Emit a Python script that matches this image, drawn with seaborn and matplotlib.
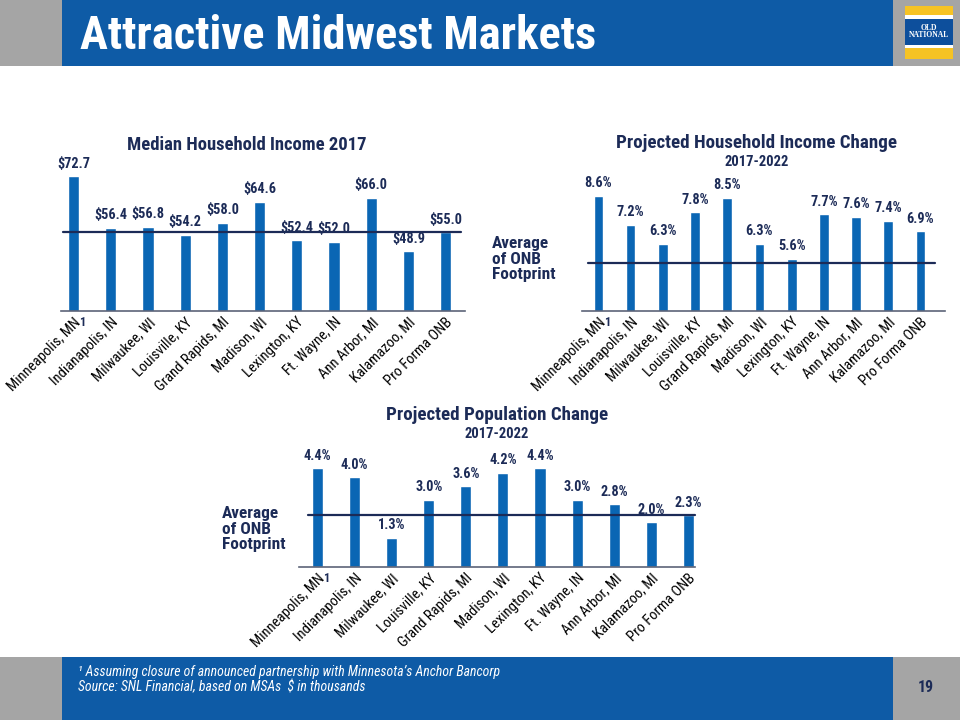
import matplotlib
matplotlib.use("Agg")
import matplotlib.pyplot as plt
import seaborn as sns
import pandas as pd
from matplotlib.patches import Rectangle
from matplotlib import font_manager

sns.set_theme(style="white")


def pick_family(prefs):
    fl = font_manager.fontManager.ttflist
    for p in prefs:
        files = [f for f in fl if f.name == p and "[" not in f.fname]
        w = {f.weight for f in files if f.style == "normal"}
        if (700 in w or "bold" in w) and (400 in w or "normal" in w or "regular" in w):
            return p
    return "DejaVu Sans"


NARROW = pick_family(["Liberation Sans Narrow", "Arial Narrow", "Nimbus Sans Narrow",
                      "Roboto Condensed", "PT Sans Narrow", "Fira Sans Condensed",
                      "Encode Sans Condensed", "Barlow Semi Condensed"])
plt.rcParams['font.family'] = [NARROW, 'DejaVu Sans']

# ---------------- data ----------------
markets = ["Minneapolis, MN", "Indianapolis, IN", "Milwaukee, WI", "Louisville, KY",
           "Grand Rapids, MI", "Madison, WI", "Lexington, KY", "Ft. Wayne, IN",
           "Ann Arbor, MI", "Kalamazoo, MI", "Pro Forma ONB"]
median_income = [72.7, 56.4, 56.8, 54.2, 58.0, 64.6, 52.4, 52.0, 66.0, 48.9, 55.0]
income_change = [8.6, 7.2, 6.3, 7.8, 8.5, 6.3, 5.6, 7.7, 7.6, 7.4, 6.9]
pop_change = [4.4, 4.0, 1.3, 3.0, 3.6, 4.2, 4.4, 3.0, 2.8, 2.0, 2.3]
avg_income = 55.2
avg_income_change = 5.37
avg_pop_change = 2.32

BAR = "#0A66B4"
NAVY = "#1C2B57"
HEAD = "#0E5BA6"
GREY = "#A5A5A5"

W, H = 960, 720
fig = plt.figure(figsize=(9.6, 7.2), dpi=100)
fig.patch.set_facecolor("white")
renderer = fig.canvas.get_renderer()


def measure(s, **kw):
    t = fig.text(0, 0, s, fontsize=10, **kw)
    w = t.get_window_extent(renderer=renderer).width
    t.remove()
    return w


def size_for(s, target, **kw):
    return 10 * target / measure(s, **kw)


def box(x0, y0, x1, y1):
    return [x0 / W, 1 - y1 / H, (x1 - x0) / W, (y1 - y0) / H]


def rect(x0, y0, x1, y1, color, z=0):
    fig.patches.append(Rectangle((x0 / W, 1 - y1 / H), (x1 - x0) / W, (y1 - y0) / H,
                                 transform=fig.transFigure, facecolor=color,
                                 edgecolor="none", zorder=z))


def ftext(x, y, s, **kw):
    return fig.text(x / W, 1 - y / H, s, **kw)


def fit_text(x, y, s, width, scale=1.0, **kw):
    fs = scale * size_for(s, width, **{k: v for k, v in kw.items()
                                      if k in ("fontweight", "style", "family")})
    return ftext(x, y, s, fontsize=fs, **kw)


TICK_FS = 1.06 * size_for("Indianapolis, IN", 88 / 1.05)
LABEL_FS = 1.14 * size_for("$56.4", 29, fontweight="bold")

# ---------------- header ----------------
rect(0, 0, 62, 66, GREY)
rect(62, 0, 893, 66, HEAD)
rect(893, 0, 960, 66, GREY)
fit_text(80, 36, "Attractive Midwest Markets", 503, scale=1.03, color="white",
         fontweight="bold", va="center", ha="left")
# logo
rect(905, 6, 953, 59, "#F6C324", 1)
rect(905, 15, 953, 19, "white", 2)
rect(905, 19, 953, 45, "#0D4F9C", 2)
rect(905, 45, 953, 48, "white", 2)
ftext(929, 28, "OLD", color="white", fontsize=5.5, ha="center", va="center",
      family=["Liberation Serif", "DejaVu Serif"], fontweight="bold", zorder=3)
ftext(929, 35, "NATIONAL", color="white", fontsize=5.5, ha="center", va="center",
      family=["Liberation Serif", "DejaVu Serif"], fontweight="bold", zorder=3)

# ---------------- footer ----------------
rect(0, 657, 62, 720, GREY)
rect(62, 657, 893, 720, HEAD)
rect(893, 657, 960, 720, GREY)
foot1 = "¹ Assuming closure of announced partnership with Minnesota’s Anchor Bancorp"
fs_foot = size_for(foot1, 419, style="italic")
ftext(78, 672, foot1, color="white", fontsize=fs_foot, style="italic", va="center")
ftext(78, 687, "Source: SNL Financial, based on MSAs  $ in thousands",
      color="white", fontsize=fs_foot, style="italic", va="center")
fit_text(926, 688, "19", 16, color=NAVY, fontweight="bold", ha="center", va="center")


# ---------------- charts ----------------
def chart(rectpx, values, fmt, ylim, xlim, avg, avg_span, title, title_w, sub, title_xy):
    ax = fig.add_axes(box(*rectpx))
    df = pd.DataFrame({"market": markets, "value": values})
    sns.barplot(data=df, x="market", y="value", color=BAR, width=0.3,
                saturation=1, ax=ax)
    ax.set_ylim(*ylim)
    ax.set_xlim(*xlim)
    ax.patch.set_alpha(0)
    for s in ["top", "right", "left"]:
        ax.spines[s].set_visible(False)
    ax.spines["bottom"].set_color("#5C6478")
    ax.spines["bottom"].set_linewidth(1.2)
    ax.set_yticks([])
    ax.set_xlabel("")
    ax.set_ylabel("")
    ax.tick_params(axis="x", length=0, pad=3)
    ax.set_xticks(range(len(markets)))
    ax.set_xticklabels(markets, rotation=45, ha="right", rotation_mode="anchor",
                       fontsize=TICK_FS, color="black")
    ax.bar_label(ax.containers[0], labels=[fmt.format(v) for v in values],
                 padding=4, fontsize=LABEL_FS, fontweight="bold", color=NAVY)
    ax.plot(avg_span, [avg, avg], color=NAVY, lw=1.6, zorder=5, clip_on=False)
    ax.annotate("1", xy=(0, ylim[0]), xycoords="data", xytext=(4, -8),
                textcoords="offset points", fontsize=TICK_FS * 0.85, fontweight="bold",
                color=NAVY, ha="left", va="center")
    fit_text(title_xy[0], title_xy[1], title, title_w, scale=1.04, color=NAVY,
             fontweight="bold", ha="center", va="center")
    if sub:
        fit_text(title_xy[0], title_xy[1] + 19, sub, 62, scale=1.04, color=NAVY,
                 fontweight="bold", ha="center", va="center")
    return ax


chart((61, 160, 465, 311), median_income, "${:.1f}", (30, 30 + 151 / 3.15),
      (-0.34, 10.52), avg_income, [-0.28, 10.4],
      "Median Household Income 2017", 230, None, (247, 145))

chart((582, 180, 945, 311), income_change, "{:.1f}%", (3.1, 3.1 + 131 / 21.0),
      (-0.51, 10.76), avg_income_change, [-0.33, 10.45],
      "Projected Household Income Change", 270, "2017-2022", (757, 143))

chart((299, 450, 695, 567), pop_change, "{:.1f}%", (0, 117 / 22.4),
      (-0.5, 10.18), avg_pop_change, [-0.26, 10.18],
      "Projected Population Change", 213, "2017-2022", (497, 415))

fs_avg = size_for("Footprint", 63, fontweight="bold")
for (x, y) in [(492, 236), (222, 506)]:
    ftext(x, y, "Average\nof ONB\nFootprint", color=NAVY, fontsize=fs_avg,
          fontweight="bold", ha="left", va="top", linespacing=1.05)

fig.savefig("out.png", dpi=100)
